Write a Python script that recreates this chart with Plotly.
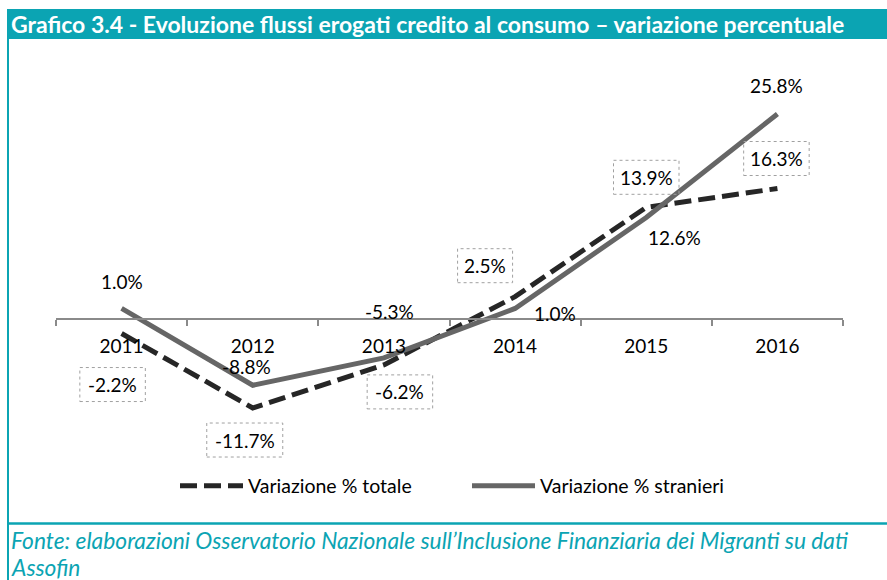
import plotly.graph_objects as go

# ---------------- data ----------------
years = ["2011", "2012", "2013", "2014", "2015", "2016"]
totale = [-2.2, -11.7, -6.2, 2.5, 13.9, 16.3]
stranieri = [1.0, -8.8, -5.3, 1.0, 12.6, 25.8]
name_totale = "Variazione % totale"
name_stranieri = "Variazione % stranieri"
title_text = "Grafico 3.4 - Evoluzione flussi erogati credito al consumo – variazione percentuale"
source_line1 = "Fonte: elaborazioni Osservatorio Nazionale sull’Inclusione Finanziaria dei Migranti su dati"
source_line2 = "Assofin"

# ---------------- layout geometry ----------------
W, H = 887, 580
ML, MR, MT, MB = 56, 44, 60, 120
PW, PH = W - ML - MR, H - MT - MB
YMIN, YMAX = -18.33, 32.69
AXIS_CROSS = -0.4

TEAL = "#0ba4b3"
FONT = "Lato, 'Liberation Sans', sans-serif"


def px_x(px):
    return (px - ML) / PW


def px_y(py):
    return (H - MB - py) / PH


# label offsets in pixels (dx right, dy down) relative to the data point
tot_off = [(-9, 51), (-8, 32), (16, 27), (-30, -31), (0, -30), (-1, -30)]
str_off = [(0, -27), (-6, -19), (6, -46), (40, 5), (28, 20), (-1, -29)]

fig = go.Figure()
fig.add_trace(go.Scatter(
    x=years, y=totale, mode="lines", name=name_totale,
    line=dict(color="#262626", width=5, dash="17px,7px"),
))
fig.add_trace(go.Scatter(
    x=years, y=stranieri, mode="lines", name=name_stranieri,
    line=dict(color="#666666", width=5),
))

annotations = []
shapes = []


def fmt(v):
    return f"{v:.1f}%"


for i, (v, (dx, dy)) in enumerate(zip(totale, tot_off)):
    t = fmt(v)
    annotations.append(dict(x=i, y=v, xref="x", yref="y", text=t, showarrow=False,
                            xshift=dx, yshift=-dy, font=dict(family=FONT, size=19, color="#000")))
    w = 10.5 * len(t) + 13
    h = 34
    shapes.append(dict(type="rect", xref="x", yref="y", xsizemode="pixel", ysizemode="pixel",
                       xanchor=i, yanchor=v, x0=dx - w / 2, x1=dx + w / 2,
                       y0=-dy - h / 2, y1=-dy + h / 2,
                       line=dict(color="#a0a0a0", width=1, dash="dot"), layer="above"))

for i, (v, (dx, dy)) in enumerate(zip(stranieri, str_off)):
    annotations.append(dict(x=i, y=v, xref="x", yref="y", text=fmt(v), showarrow=False,
                            xshift=dx, yshift=-dy, font=dict(family=FONT, size=19, color="#000")))

# title bar, borders
shapes.append(dict(type="rect", xref="paper", yref="paper", x0=px_x(7), x1=px_x(887),
                   y0=px_y(39), y1=px_y(9), fillcolor=TEAL, line=dict(width=0), layer="below"))
shapes.append(dict(type="line", xref="paper", yref="paper", x0=px_x(8), x1=px_x(8),
                   y0=px_y(39), y1=px_y(580), line=dict(color=TEAL, width=2)))
shapes.append(dict(type="line", xref="paper", yref="paper", x0=px_x(8), x1=px_x(887),
                   y0=px_y(523.5), y1=px_y(523.5), line=dict(color=TEAL, width=2.5)))

annotations.append(dict(xref="paper", yref="paper", x=px_x(9), y=px_y(24), xanchor="left",
                        yanchor="middle", text=f"<b>{title_text}</b>", showarrow=False,
                        font=dict(family=FONT, size=23, color="white")))
annotations.append(dict(xref="paper", yref="paper", x=px_x(9), y=px_y(540), xanchor="left",
                        yanchor="middle", text=f"<i>{source_line1}</i>", showarrow=False,
                        font=dict(family=FONT, size=22.8, color=TEAL)))
annotations.append(dict(xref="paper", yref="paper", x=px_x(9), y=px_y(567), xanchor="left",
                        yanchor="middle", text=f"<i>{source_line2}</i>", showarrow=False,
                        font=dict(family=FONT, size=22.8, color=TEAL)))

fig.update_layout(
    width=W, height=H,
    margin=dict(l=ML, r=MR, t=MT, b=MB),
    paper_bgcolor="white", plot_bgcolor="white",
    showlegend=True,
    legend=dict(orientation="h", x=px_x(175), y=px_y(486), xanchor="left", yanchor="middle",
                font=dict(family=FONT, size=19.5, color="#000"), itemwidth=63,
                entrywidth=214, bgcolor="rgba(0,0,0,0)"),
    xaxis=dict(type="category", range=[-0.5, 5.5], anchor="free",
               position=(AXIS_CROSS - YMIN) / (YMAX - YMIN),
               showline=True, linecolor="#8a8a8a", linewidth=2,
               ticks="outside", tickson="boundaries", ticklen=6, tickwidth=2, tickcolor="#8a8a8a",
               showgrid=False, zeroline=False,
               tickfont=dict(family=FONT, size=19, color="#000"), ticklabelstandoff=10,
               fixedrange=True),
    yaxis=dict(range=[YMIN, YMAX], visible=False, showgrid=False, zeroline=False, fixedrange=True),
    annotations=annotations,
    shapes=shapes,
)

fig.write_html("out.html", config={"displayModeBar": False},
               post_script="document.body.style.margin='0';document.body.style.overflow='hidden';")
